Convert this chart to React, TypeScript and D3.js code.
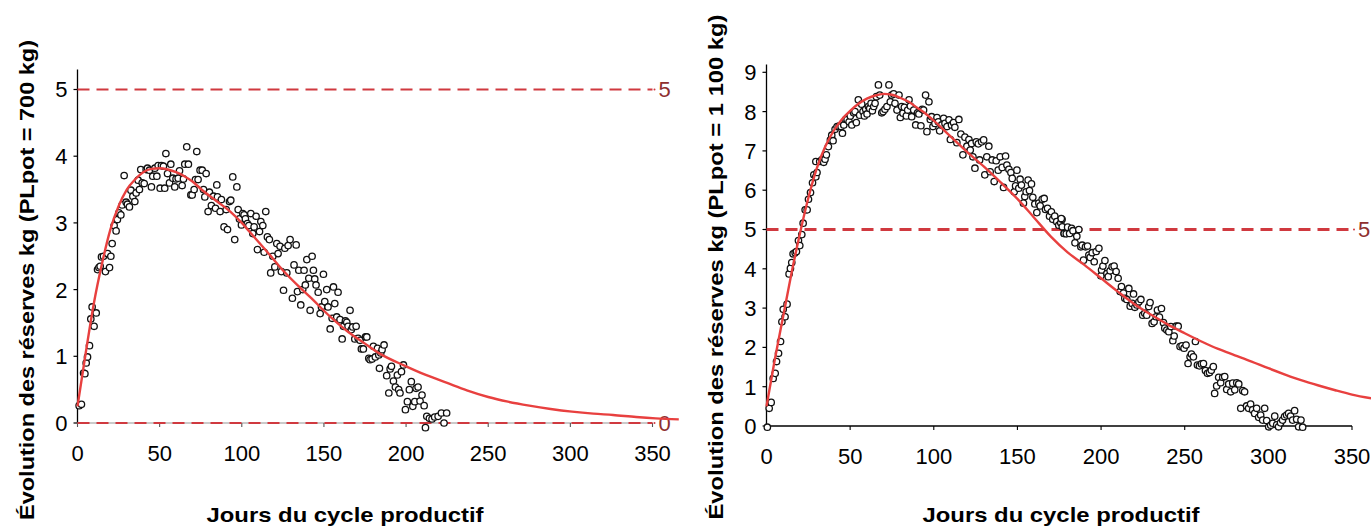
import React from "react";
import * as d3 from "d3";

// ---------- DATA ----------
const xTicks = [0, 50, 100, 150, 200, 250, 300, 350];
const yTicksLeft = [0, 1, 2, 3, 4, 5];
const yTicksRight = [0, 1, 2, 3, 4, 5, 6, 7, 8, 9];
const refLinesLeft = [0, 5];
const refLinesRight = [5];
const titleLeft = "Évolution des réserves kg (PLpot = 700 kg)";
const titleRight = "Évolution des réserves kg (PLpot = 1 100 kg)";
const xTitle = "Jours du cycle productif";

// fitted curve, 700 kg  [day, kg]
const curveLeft: [number, number][] = [
  [0, 0.25], [5, 1.05], [10, 1.8], [15, 2.4], [20, 2.9], [25, 3.25], [30, 3.5], [35, 3.65],
  [40, 3.76], [45, 3.81], [50, 3.82], [55, 3.8], [60, 3.76], [65, 3.7], [70, 3.62], [76, 3.49],
  [85, 3.32], [93, 3.17], [100, 3.0], [105, 2.86], [115, 2.58], [125, 2.29], [135, 2.04],
  [141.5, 1.89], [154, 1.59], [165, 1.36], [175, 1.19], [184, 1.04], [199, 0.86], [212, 0.72],
  [225, 0.6], [237, 0.49], [250, 0.39], [262, 0.32], [275, 0.26], [288, 0.21], [301, 0.17],
  [314, 0.14], [326, 0.12], [340, 0.09], [352, 0.07], [366, 0.055],
];

// fitted curve, 1 100 kg
const curveRight: [number, number][] = [
  [0, 0.5], [5, 1.7], [10, 2.8], [15, 3.9], [20, 4.9], [25, 5.8], [30, 6.55], [35, 7.1],
  [40, 7.5], [45, 7.8], [50, 8.02], [55, 8.2], [60, 8.33], [65, 8.41], [70, 8.45], [75, 8.43],
  [80, 8.35], [85, 8.25], [90, 8.1], [95, 7.95], [100, 7.77], [110, 7.37], [120, 6.97],
  [130, 6.6], [140, 6.2], [150, 5.78], [160, 5.3], [170, 4.82], [180, 4.42], [190, 4.1],
  [200, 3.76], [210, 3.42], [220, 3.1], [230, 2.83], [240, 2.58], [250, 2.36], [260, 2.15],
  [270, 1.96], [280, 1.8], [290, 1.64], [300, 1.47], [310, 1.31], [320, 1.16], [330, 1.03],
  [340, 0.91], [350, 0.8], [362, 0.7],
];

// observations, 700 kg  [day, kg]
const obsLeft: [number, number][] = [
  [1, 0.26], [2.4, 0.28], [3.7, 0.75], [4.5, 0.74], [5.3, 0.9], [6.1, 0.99], [7.3, 1.16],
  [8.1, 1.56], [8.9, 1.74], [10.1, 1.45], [11.4, 1.65], [12.2, 2.3], [13, 2.33], [13.8, 2.35],
  [14.6, 2.49], [15.8, 2.5], [17, 2.27], [18.3, 2.54], [19.5, 2.33], [20.3, 2.5], [21.1, 2.69],
  [22.3, 2.96], [23.5, 2.88], [24.3, 3.05], [25.2, 3.15], [26.4, 3.12], [27.2, 3.27], [28.4, 3.71],
  [29.6, 3.31], [30.4, 3.28], [31.6, 3.24], [32.5, 3.49], [33.7, 3.4], [34.9, 3.32], [35.7, 3.45],
  [36.9, 3.64], [37.7, 3.5], [38.5, 3.8], [39.4, 3.6], [40.6, 3.59], [41.8, 3.8], [42.6, 3.82],
  [43.8, 3.79], [45, 3.54], [45.8, 3.7], [47.1, 3.82], [48.3, 3.7], [49.1, 3.86], [50.3, 3.52],
  [51.1, 3.86], [52.3, 3.85], [53.1, 3.52], [53.8, 4.04], [54.8, 3.74], [56, 3.6], [56.8, 3.88],
  [58, 3.67], [59.2, 3.54], [60, 3.66], [61.3, 3.67], [62.1, 3.78], [63.7, 3.56], [64.5, 3.66],
  [65.3, 3.88], [66.5, 4.14], [67.5, 3.88], [69, 3.42], [69.8, 3.42], [71, 3.5], [71.8, 3.65],
  [72.6, 4.07], [73.4, 3.65], [74.6, 3.79], [75.9, 3.79], [76.7, 3.5], [77.5, 3.39], [78.3, 3.74],
  [79.5, 3.17], [80.3, 3.46], [81.5, 3.26], [82.8, 3.4], [84, 3.22], [84.8, 3.57], [85.2, 3.39],
  [86.8, 3.17], [87.6, 3.35], [89.2, 2.94], [90.5, 3.2], [91.3, 2.9], [92.5, 3.32], [93.3, 3.34],
  [94.5, 3.69], [95.7, 2.75], [97, 3.54], [97.8, 3.2], [98.6, 3.06], [99.8, 2.97], [100.6, 3.14],
  [101.4, 3.12], [102.2, 3.06], [103.4, 2.99], [104.3, 2.96], [105.5, 3.14], [106.7, 2.84],
  [107.5, 2.94], [108.7, 3.1], [109.5, 2.6], [110.8, 2.87], [111.6, 3.02], [112.8, 2.96],
  [113.6, 2.56], [114.6, 3.17], [115.6, 2.79], [116.8, 2.75], [117.6, 2.25], [118.9, 2.5],
  [120.1, 2.34], [121.3, 2.69], [122.1, 2.54], [123.3, 2.65], [124.1, 2.27], [125.4, 1.99],
  [126.2, 2.62], [127.4, 2.25], [128.2, 2.66], [129.4, 2.75], [130.8, 1.87], [131.8, 2.37],
  [133.1, 2.67], [133.9, 1.97], [134.7, 2.29], [135.9, 1.77], [137.1, 2.0], [137.9, 2.29],
  [138.7, 2.07], [139.6, 2.45], [140.8, 2.17], [141.6, 1.69], [142.8, 2.5], [143.6, 2.29],
  [144.4, 2.16], [145.2, 2.07], [146.5, 1.96], [147.7, 1.64], [148.5, 1.74], [149.7, 2.23],
  [150.5, 1.82], [151.7, 2.0], [152.5, 1.74], [153.8, 1.41], [155, 1.57], [155.8, 2.04],
  [156.6, 1.79], [157.8, 1.59], [158.6, 1.96], [159.8, 1.55], [161.1, 1.26], [161.9, 1.45],
  [163.1, 1.53], [163.9, 1.51], [164.7, 1.45], [165.9, 1.69], [166.7, 1.4], [167.5, 1.44],
  [168.8, 1.26], [169.6, 1.45], [170.8, 1.27], [172, 1.24], [172.8, 1.11], [174, 1.11],
  [175.3, 1.29], [176.1, 1.29], [177.3, 0.97], [178.1, 0.95], [179.3, 0.96], [180.1, 1.15],
  [181.3, 0.99], [182.6, 1.12], [183.4, 1.02], [184.6, 1.05], [185.4, 1.1], [186.6, 1.17],
  [183.8, 0.82], [188.2, 0.71], [189.5, 0.45], [190.3, 0.81], [191.1, 0.85], [192.3, 0.63],
  [193.5, 0.54], [194.7, 0.72], [195.5, 0.5], [196.3, 0.45], [197.2, 0.77], [198.4, 0.87],
  [199.6, 0.2], [200.8, 0.32], [202, 0.5], [203.2, 0.62], [204.1, 0.25], [205.3, 0.32],
  [206.1, 0.52], [207.3, 0.54], [208.5, 0.33], [209.7, 0.42], [211, 0.26], [211.8, -0.07],
  [212.6, 0.1], [214.2, 0.07], [215.8, 0.06], [217.4, 0.09], [219.5, 0.1], [221.5, 0.15],
  [223.1, 0.0], [224.7, 0.15],
];

// observations, 1 100 kg
const obsRight: [number, number][] = [
  [0.5, -0.03], [1.6, 0.45], [2.8, 0.6], [4, 1.21], [5.2, 1.34], [6, 1.64], [7.2, 1.85],
  [8.4, 2.15], [9.2, 2.65], [10, 2.97], [11.1, 2.78], [12.3, 3.1], [13.5, 3.87], [14.3, 4.01],
  [15.1, 4.16], [15.9, 4.38], [17.1, 4.41], [17.9, 4.44], [19.1, 4.72], [19.9, 4.59],
  [21.1, 4.87], [21.9, 5.16], [23.1, 5.5], [24.3, 5.5], [25.1, 5.77], [26.3, 5.94], [27.5, 6.19],
  [28.3, 6.39], [29.5, 6.34], [30.2, 6.45], [29.5, 6.73], [31.8, 6.73], [33, 6.77], [34.2, 6.71],
  [35, 6.79], [35.8, 6.9], [37, 7.11], [38.2, 7.28], [39, 7.4], [39.8, 7.26], [41, 7.55],
  [42.2, 7.62], [43.4, 7.63], [44.6, 7.62], [45.4, 7.45], [46.2, 7.66], [47.4, 7.8], [48.2, 7.8],
  [49.4, 7.74], [50.1, 7.89], [51, 7.66], [52.1, 7.97], [52.9, 8.0], [53.7, 7.72], [54.9, 8.3],
  [55.7, 7.91], [56.9, 8.19], [57.7, 8.0], [58.5, 7.89], [59.3, 8.06], [60.1, 7.94], [60.9, 8.13],
  [61.7, 8.08], [62.5, 8.21], [63.3, 8.02], [64.1, 8.13], [64.9, 8.21], [65.7, 8.38], [66.9, 8.68],
  [67.7, 8.42], [68.9, 7.97], [69.7, 8.0], [70.8, 8.06], [72, 8.13], [73.2, 8.68], [74, 8.25],
  [74.8, 8.42], [76, 8.45], [76.8, 8.21], [78, 8.04], [79.2, 8.42], [80, 7.85], [80.8, 8.13],
  [81.6, 7.96], [82.4, 8.11], [83.6, 7.89], [84.4, 8.04], [85.2, 8.3], [86, 8.14], [86.8, 7.87],
  [88, 8.04], [89.2, 7.66], [90.3, 7.97], [91.1, 7.94], [92.3, 7.64], [93.1, 8.06], [93.9, 8.04],
  [95.1, 8.42], [95.9, 7.49], [97.1, 8.25], [97.9, 7.8], [98.7, 7.87], [99.5, 7.62], [100.7, 7.7],
  [101.9, 7.85], [102.7, 7.74], [103.5, 7.51], [104.7, 7.66], [105.9, 7.83], [106.7, 7.7],
  [107.9, 7.62], [109.1, 7.79], [109.9, 7.29], [110.6, 7.66], [111.8, 7.72], [112.6, 7.6],
  [113.8, 7.21], [115, 7.8], [116.2, 7.43], [117.4, 6.9], [118.6, 7.35], [119.8, 7.12],
  [121, 7.29], [121.8, 7.02], [122.6, 7.19], [123.4, 6.85], [124.6, 6.56], [125.4, 7.23],
  [126.6, 7.18], [127.4, 6.77], [128.6, 7.23], [129.8, 7.28], [130.5, 6.39], [131.7, 6.85],
  [132.9, 7.12], [133.7, 6.47], [134.9, 6.77], [136.1, 6.22], [137.3, 6.75], [138.5, 6.51],
  [139.7, 6.85], [140.9, 6.58], [141.7, 6.07], [142.9, 6.87], [143.7, 6.64], [144.9, 6.53],
  [146.1, 6.45], [146.9, 6.3], [148.1, 5.96], [148.9, 6.11], [149.7, 6.51], [150.8, 6.05],
  [151.6, 6.28], [152.4, 6.13], [153.6, 5.67], [154.4, 5.84], [155.2, 5.96], [156.4, 6.26],
  [157.2, 5.99], [158.4, 6.16], [159.2, 5.82], [160.4, 5.65], [161.6, 5.43], [162.8, 5.67],
  [163.6, 5.6], [164.8, 5.77], [166, 5.79], [166.8, 5.51], [168, 5.54], [169.2, 5.34],
  [170.3, 5.45], [171.1, 5.26], [172.3, 5.34], [173.5, 5.2], [174.7, 5.11], [175.9, 5.17],
  [176.7, 5.26], [177.9, 4.9], [178.7, 4.99], [176.2, 5.28], [176.8, 5.07], [178, 4.9],
  [179.2, 4.89], [180, 5.06], [181.2, 4.9], [182.4, 5.03], [183.2, 4.97], [184.4, 4.66],
  [185.5, 4.83], [186.7, 5.0], [187.9, 4.56], [188.7, 4.6], [189.5, 4.22], [190.7, 4.56],
  [191.9, 4.58], [192.7, 4.35], [193.5, 4.29], [194.7, 4.41], [195.9, 4.18], [197.1, 4.44],
  [198.7, 4.52], [199.9, 3.82], [200.3, 3.97], [201.1, 4.07], [202.3, 4.21], [203.5, 3.88],
  [204.3, 3.8], [205.4, 3.95], [206.6, 4.05], [207.8, 4.07], [209, 3.93], [210.2, 3.76],
  [211.4, 3.42], [212.2, 3.55], [213.4, 3.38], [214.2, 3.25], [215.4, 3.22], [216.6, 3.5],
  [217.4, 3.05], [218.6, 3.12], [219.4, 3.36], [220.2, 3.02], [221.4, 3.08], [222.6, 3.16],
  [223.8, 3.22], [224.9, 2.82], [226.1, 2.87], [227.3, 2.82], [228.5, 3.04], [229.3, 3.14],
  [230.5, 2.61], [231.7, 2.65], [232.9, 2.78], [233.7, 2.95], [234.9, 2.77], [236.1, 2.99],
  [237.3, 2.63], [238.1, 2.49], [239.3, 2.44], [240.5, 2.4], [241.7, 2.53], [242.9, 2.17],
  [243.7, 2.29], [244.9, 2.54], [246.1, 2.54], [247.2, 2.02], [248.4, 2.04], [249.6, 1.98],
  [250.8, 2.06], [252, 1.59], [253.2, 1.76], [254, 1.83], [255.2, 1.76], [256.4, 2.15],
  [257.6, 1.55], [258.8, 1.53], [260, 1.58], [261.2, 1.59], [262.4, 1.41], [263.6, 1.34],
  [264.8, 1.36], [265.9, 1.42], [267.1, 1.51], [267.9, 0.83], [269.1, 1.02], [270.3, 1.24],
  [271.5, 1.1], [272.7, 1.24], [273.9, 1.26], [275.1, 0.93], [276.3, 1.07], [277.5, 0.87],
  [278.7, 1.09], [279.9, 0.92], [281.1, 1.1], [282.3, 1.07], [283.5, 0.45], [284.7, 0.9],
  [285.8, 0.87], [287, 0.51], [288.2, 0.45], [289.4, 0.56], [290.6, 0.41], [291.8, 0.32],
  [293, 0.45], [294.2, 0.22], [295.4, 0.28], [296.6, 0.15], [297.8, 0.45], [299, 0.14],
  [300.2, -0.02], [301.4, 0.02], [302.6, 0.07], [303.8, 0.25], [305, 0.03], [306.1, -0.02],
  [307.3, 0.08], [308.5, 0.15], [309.7, 0.24], [310.9, 0.28], [312.1, 0.32], [313.3, 0.25],
  [314.5, 0.15], [315.7, 0.39], [316.9, 0.17], [318.1, -0.02], [319.5, 0.15], [320.5, -0.03],
];

// ---------- STYLE ----------
const FONT = "'Liberation Sans', Arial, Helvetica, sans-serif";
const CURVE = "#e8403f";
const DASH = "#d0393f";
const REFLABEL = "#8e2f2f";

type PanelProps = {
  obs: [number, number][];
  curve: [number, number][];
  yTicks: number[];
  refLines: number[];
  yTop: number;
  x0: number;
  x350: number;
  yZero: number;
  yTopTick: number;
  title: string;
  titleLen: number;
  titleX: number;
  titleY: number;
  xTitleX: number;
  greyAxis: boolean;
  dashW: number;
};

function Panel(p: PanelProps) {
  const yMaxTick = p.yTicks[p.yTicks.length - 1];
  const x = d3.scaleLinear().domain([0, 350]).range([p.x0, p.x350]);
  const y = d3.scaleLinear().domain([0, yMaxTick]).range([p.yZero, p.yTopTick]);
  const line = d3
    .line<[number, number]>()
    .x((d) => x(d[0]))
    .y((d) => y(d[1]))
    .curve(d3.curveMonotoneX);
  const x350 = x(350);
  return (
    <g>
      {/* y axis */}
      <line x1={x(0)} x2={x(0)} y1={y(0)} y2={y(p.yTop)} stroke="#000" strokeWidth={1.3} />
      {p.yTicks.map((t) => (
        <g key={"yt" + t}>
          <line x1={x(0) - 4} x2={x(0)} y1={y(t)} y2={y(t)} stroke="#000" strokeWidth={1.2} />
          <text
            x={x(0) - 10}
            y={y(t)}
            dy="0.36em"
            textAnchor="end"
            fontFamily={FONT}
            fontSize={22}
            fill="#000"
          >
            {t}
          </text>
        </g>
      ))}
      {/* x axis */}
      <line
        x1={x(0)}
        x2={x350}
        y1={y(0)}
        y2={y(0)}
        stroke={p.greyAxis ? "#b9b9b9" : "#000"}
        strokeWidth={p.greyAxis ? 1.6 : 1.3}
      />
      {xTicks.map((t) => (
        <g key={"xt" + t}>
          <line
            x1={x(t)}
            x2={x(t)}
            y1={y(0)}
            y2={y(0) + 4}
            stroke={p.greyAxis ? "#555" : "#000"}
            strokeWidth={1.1}
          />
          <text
            x={x(t)}
            y={y(0) + 38}
            textAnchor="middle"
            fontFamily={FONT}
            fontSize={22}
            fill="#000"
          >
            {t}
          </text>
        </g>
      ))}
      {/* reference dashed lines */}
      {p.refLines.map((r) => (
        <g key={"ref" + r}>
          <line
            x1={x(0)}
            x2={x350}
            y1={y(r)}
            y2={y(r)}
            stroke={DASH}
            strokeWidth={p.dashW}
            strokeDasharray="12,7"
          />
          <circle cx={x350 + 2} cy={y(r)} r={1} fill={DASH} />
          <text
            x={x350 + 6}
            y={y(r)}
            dy="0.36em"
            fontFamily={FONT}
            fontSize={22}
            fill={REFLABEL}
          >
            {r}
          </text>
        </g>
      ))}
      {/* observations */}
      {p.obs.map((d, i) => (
        <circle
          key={"o" + i}
          cx={x(d[0])}
          cy={y(d[1])}
          r={3.2}
          fill="#fff"
          stroke="#111"
          strokeWidth={1.3}
        />
      ))}
      {/* fitted curve */}
      <path d={line(p.curve) || ""} fill="none" stroke={CURVE} strokeWidth={2.4} />
      {/* titles */}
      <text
        transform={`translate(${p.titleX},${p.titleY}) rotate(-90)`}
        textAnchor="middle"
        fontFamily={FONT}
        fontWeight="bold"
        fontSize={21}
        textLength={p.titleLen}
        lengthAdjust="spacingAndGlyphs"
        fill="#000"
      >
        {p.title}
      </text>
      <text
        x={p.xTitleX}
        y={522}
        textAnchor="middle"
        fontFamily={FONT}
        fontWeight="bold"
        fontSize={21}
        textLength={277}
        lengthAdjust="spacingAndGlyphs"
        fill="#000"
      >
        {xTitle}
      </text>
    </g>
  );
}

export default function App() {
  return (
    <svg
      width={1371}
      height={530}
      style={{ position: "absolute", left: 0, top: 0, background: "#fff" }}
    >
      <rect x={0} y={0} width={1371} height={530} fill="#fff" />
      <Panel
        obs={obsLeft}
        curve={curveLeft}
        yTicks={yTicksLeft}
        refLines={refLinesLeft}
        yTop={5.3}
        x0={77.5}
        x350={652.5}
        yZero={423}
        yTopTick={89.5}
        title={titleLeft}
        titleLen={480}
        titleX={34}
        titleY={280}
        xTitleX={345}
        greyAxis={true}
        dashW={2}
      />
      <Panel
        obs={obsRight}
        curve={curveRight}
        yTicks={yTicksRight}
        refLines={refLinesRight}
        yTop={9.2}
        x0={766.5}
        x350={1352}
        yZero={426}
        yTopTick={72.3}
        title={titleRight}
        titleLen={505}
        titleX={723}
        titleY={267}
        xTitleX={1061}
        greyAxis={false}
        dashW={3}
      />
    </svg>
  );
}
